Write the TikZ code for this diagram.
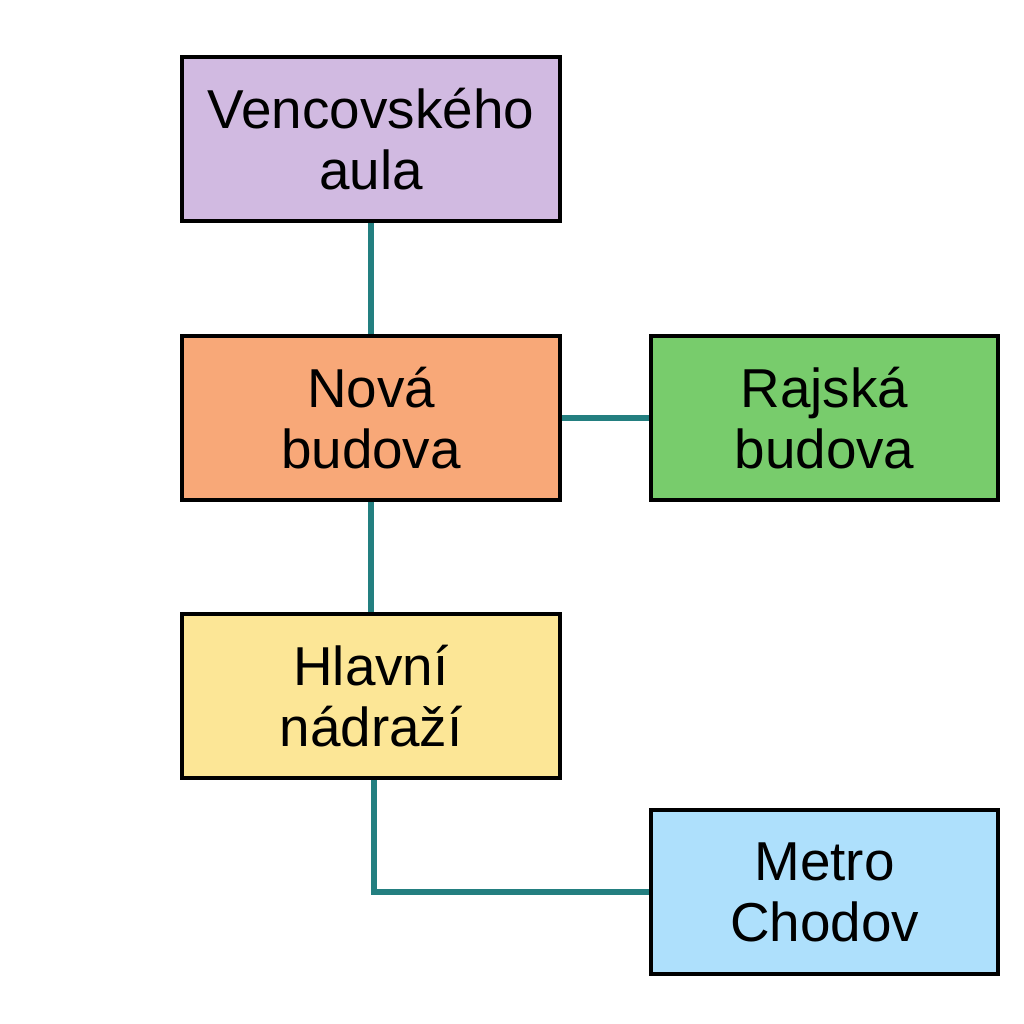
\documentclass[tikz,border=0pt]{standalone}
\usepackage{fontspec}
\setmainfont{Liberation Sans}
\definecolor{auladark}{HTML}{D1BAE1}
\definecolor{novaorange}{HTML}{F8A878}
\definecolor{rajskagreen}{HTML}{78CC6C}
\definecolor{nadrazi}{HTML}{FCE696}
\definecolor{metroblue}{HTML}{AEE0FC}
\definecolor{linkteal}{HTML}{237F80}
\begin{document}
\begin{tikzpicture}[
        place/.style={draw=black, line width=1.3pt, minimum width=3.78cm,
                      minimum height=1.64cm, inner sep=0pt, align=center,
                      font=\fontsize{15.6}{17.4}\selectfont},
        side/.style={place, minimum width=3.47cm},
        link/.style={draw=linkteal, line width=1.5pt}]
        \useasboundingbox (0,0) rectangle (10.24,10.24);
        % main column
        \node[place, fill=auladark] (aula) at (3.71,8.85) {Vencovského\\aula};
        \node[place, fill=novaorange] (nova) at (3.71,6.06) {Nová\\budova};
        \node[place, fill=nadrazi] (hlavni) at (3.71,3.28) {Hlavní\\nádraží};
        % right side
        \node[side, fill=rajskagreen] (rajska) at (8.245,6.06) {Rajská\\budova};
        \node[side, fill=metroblue] (metro) at (8.245,1.32) {Metro\\Chodov};
        % links
        \draw[link] (aula) -- (nova);
        \draw[link] (nova) -- (rajska);
        \draw[link] (nova) -- (hlavni);
        \draw[link] ([xshift=0.03cm]hlavni.south) |- (metro.west);
    \end{tikzpicture}
\end{document}
